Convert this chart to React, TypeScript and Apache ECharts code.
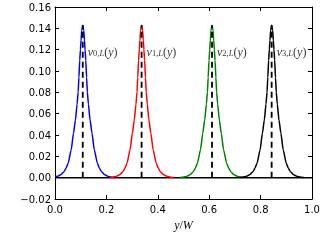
import React, { useEffect, useRef } from "react";
import * as echarts from "echarts";

const centers = [0.108, 0.337, 0.611, 0.843];
const curveColors = ["#0000ff", "#ff0000", "#008000", "#000000"];
const curveIndex = ["0", "1", "2", "3"];
const peakHeight = 0.143;
const labelLevel = 0.118;
// one side of each (symmetric) peak
const profileOffsets = [0, 0.004, 0.0065, 0.009, 0.0117, 0.015, 0.018, 0.022, 0.0285, 0.036, 0.045, 0.057, 0.065, 0.073, 0.084, 0.095, 0.105, 0.115, 0.125];
const profileValues = [0.143, 0.138, 0.129, 0.12, 0.11, 0.094, 0.08, 0.069, 0.054, 0.0416, 0.026, 0.0135, 0.0088, 0.0056, 0.003, 0.0016, 0.0008, 0.0003, 0.0001];

const serif = "Liberation Serif";
const sans = "DejaVu Sans";

function curvePoints(c: number): number[][] {
  const pts: number[][] = [];
  for (let k = profileOffsets.length - 1; k > 0; k--) pts.push([c - profileOffsets[k], profileValues[k]]);
  for (let k = 0; k < profileOffsets.length; k++) pts.push([c + profileOffsets[k], profileValues[k]]);
  return pts.filter((p) => p[0] >= 0 && p[0] <= 1);
}

const rich = {
  i: { fontFamily: serif, fontStyle: "italic", fontSize: 12, color: "#000" },
  r: { fontFamily: serif, fontSize: 12, color: "#000" },
  s: { fontFamily: serif, fontSize: 8.5, color: "#000", verticalAlign: "bottom" },
  si: { fontFamily: serif, fontStyle: "italic", fontSize: 8.5, color: "#000", verticalAlign: "bottom" },
};

export default function App() {
  const ref = useRef<HTMLDivElement>(null);
  useEffect(() => {
    const chart = echarts.init(ref.current!, null, { renderer: "svg" });
    const yFmt = (v: number) => (Math.abs(v) < 1e-9 ? "0.00" : (v < 0 ? "\u2212" : "") + Math.abs(v).toFixed(2));
    const tick = { show: true, inside: true, length: 4, lineStyle: { color: "#000", width: 1 } };
    const line = { show: true, onZero: false, lineStyle: { color: "#000", width: 1 } };
    const series: any[] = [];
    series.push({
      type: "line",
      data: [[0, 0], [1, 0]],
      symbol: "none",
      lineStyle: { color: "#000", width: 1.5 },
      z: 1,
    });
    centers.forEach((c, i) => {
      series.push({
        type: "line",
        data: curvePoints(c),
        symbol: "none",
        smooth: 0.2,
        smoothMonotone: "x",
        lineStyle: { color: curveColors[i], width: 1.5 },
        z: 2,
      });
    });
    centers.forEach((c) => {
      series.push({
        type: "line",
        data: [[c, 0], [c, peakHeight]],
        symbol: "none",
        lineStyle: { color: "#000", width: 1.8, type: [6, 4] },
        z: 3,
      });
    });
    series.push({
      type: "scatter",
      symbolSize: 0,
      z: 4,
      data: centers.map((c, i) => ({
        value: [c, labelLevel],
        label: {
          show: true,
          position: "right",
          distance: 5,
          formatter: "{i|v}{s|" + curveIndex[i] + ",}{si|L}{r|(}{i|y}{r|)}",
          rich,
        },
      })),
    });
    chart.setOption({
      animation: false,
      grid: { left: 55, top: 7, width: 257, height: 192 },
      xAxis: [
        {
          type: "value",
          min: 0,
          max: 1,
          interval: 0.2,
          position: "bottom",
          axisLine: line,
          axisTick: tick,
          splitLine: { show: false },
          axisLabel: { fontFamily: sans, fontSize: 10, color: "#000", margin: 5, formatter: (v: number) => v.toFixed(1) },
          name: "{i|y}{r|/}{i|W}",
          nameLocation: "middle",
          nameGap: 20,
          nameTextStyle: { rich },
        },
        {
          type: "value",
          min: 0,
          max: 1,
          interval: 0.2,
          position: "top",
          axisLine: line,
          axisTick: tick,
          splitLine: { show: false },
          axisLabel: { show: false },
        },
      ],
      yAxis: [
        {
          type: "value",
          min: -0.02,
          max: 0.16,
          interval: 0.02,
          position: "left",
          axisLine: line,
          axisTick: tick,
          splitLine: { show: false },
          axisLabel: { fontFamily: sans, fontSize: 10, color: "#000", margin: 4, formatter: yFmt },
        },
        {
          type: "value",
          min: -0.02,
          max: 0.16,
          interval: 0.02,
          position: "right",
          axisLine: line,
          axisTick: tick,
          splitLine: { show: false },
          axisLabel: { show: false },
        },
      ],
      series,
    });
    return () => chart.dispose();
  }, []);
  return <div ref={ref} style={{ position: "fixed", left: 0, top: 0, width: 325, height: 240 }} />;
}
